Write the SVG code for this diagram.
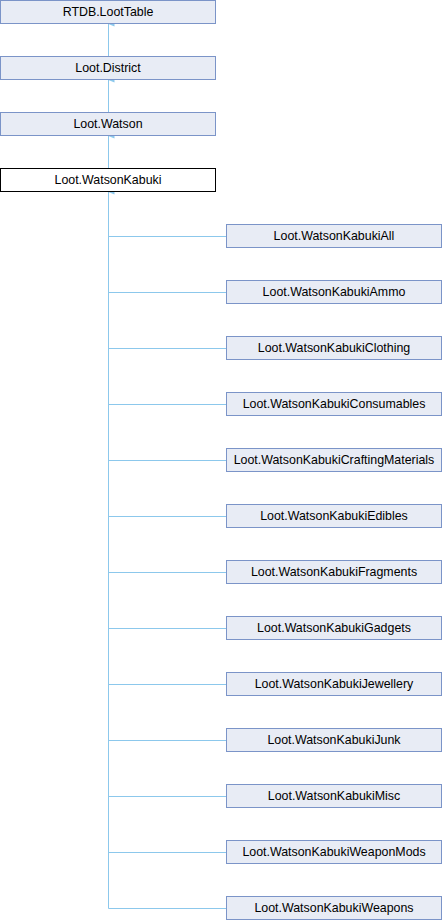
<svg xmlns="http://www.w3.org/2000/svg" width="442" height="920" viewBox="0 0 442 920">
<style>
.n rect{fill:#E8ECF5;stroke:#7B94C8;stroke-width:1}
.n.cur rect{fill:#FFFFFF;stroke:#000000}
.n text{font-family:"Liberation Sans",Arial,sans-serif;font-size:12.4px;fill:#000;text-anchor:middle}
.e{fill:none;stroke:#8CC8EC;stroke-width:1}
</style>
<defs>
<marker id="a" viewBox="0 0 10 12" refX="5" refY="0" markerWidth="5" markerHeight="6" markerUnits="userSpaceOnUse" orient="auto-start-reverse">
<path d="M5,0 L10,12 L0,12 Z" fill="#8CC8EC"/>
</marker>
</defs>
<rect width="442" height="920" fill="#fff"/>
<g id="edges">
<line class="e" x1="108.5" y1="24" x2="108.5" y2="56" marker-start="url(#a)"/>
<line class="e" x1="108.5" y1="80" x2="108.5" y2="112" marker-start="url(#a)"/>
<line class="e" x1="108.5" y1="136" x2="108.5" y2="168" marker-start="url(#a)"/>
<path class="e" d="M108.5,192 V908.5 H226" marker-start="url(#a)"/>
<path class="e" d="M108.5,236.5 H226 M108.5,292.5 H226 M108.5,348.5 H226 M108.5,404.5 H226 M108.5,460.5 H226 M108.5,516.5 H226 M108.5,572.5 H226 M108.5,628.5 H226 M108.5,684.5 H226 M108.5,740.5 H226 M108.5,796.5 H226 M108.5,852.5 H226"/>
</g>
<g id="n_loottable" class="n"><rect x="0.5" y="0.5" width="215" height="23"/><text x="108" y="15.5">RTDB.LootTable</text></g>
<g id="n_district" class="n"><rect x="0.5" y="56.5" width="215" height="23"/><text x="108" y="71.5">Loot.District</text></g>
<g id="n_watson" class="n"><rect x="0.5" y="112.5" width="215" height="23"/><text x="108" y="127.5">Loot.Watson</text></g>
<g id="n_watsonkabuki" class="n cur"><rect x="0.5" y="168.5" width="215" height="23"/><text x="108" y="183.5">Loot.WatsonKabuki</text></g>
<g id="n_all" class="n"><rect x="226.5" y="224.5" width="215" height="23"/><text x="334" y="239.5">Loot.WatsonKabukiAll</text></g>
<g id="n_ammo" class="n"><rect x="226.5" y="280.5" width="215" height="23"/><text x="334" y="295.5">Loot.WatsonKabukiAmmo</text></g>
<g id="n_clothing" class="n"><rect x="226.5" y="336.5" width="215" height="23"/><text x="334" y="351.5">Loot.WatsonKabukiClothing</text></g>
<g id="n_consumables" class="n"><rect x="226.5" y="392.5" width="215" height="23"/><text x="334" y="407.5">Loot.WatsonKabukiConsumables</text></g>
<g id="n_crafting" class="n"><rect x="226.5" y="448.5" width="215" height="23"/><text x="334" y="463.5">Loot.WatsonKabukiCraftingMaterials</text></g>
<g id="n_edibles" class="n"><rect x="226.5" y="504.5" width="215" height="23"/><text x="334" y="519.5">Loot.WatsonKabukiEdibles</text></g>
<g id="n_fragments" class="n"><rect x="226.5" y="560.5" width="215" height="23"/><text x="334" y="575.5">Loot.WatsonKabukiFragments</text></g>
<g id="n_gadgets" class="n"><rect x="226.5" y="616.5" width="215" height="23"/><text x="334" y="631.5">Loot.WatsonKabukiGadgets</text></g>
<g id="n_jewellery" class="n"><rect x="226.5" y="672.5" width="215" height="23"/><text x="334" y="687.5">Loot.WatsonKabukiJewellery</text></g>
<g id="n_junk" class="n"><rect x="226.5" y="728.5" width="215" height="23"/><text x="334" y="743.5">Loot.WatsonKabukiJunk</text></g>
<g id="n_misc" class="n"><rect x="226.5" y="784.5" width="215" height="23"/><text x="334" y="799.5">Loot.WatsonKabukiMisc</text></g>
<g id="n_weaponmods" class="n"><rect x="226.5" y="840.5" width="215" height="23"/><text x="334" y="855.5">Loot.WatsonKabukiWeaponMods</text></g>
<g id="n_weapons" class="n"><rect x="226.5" y="896.5" width="215" height="23"/><text x="334" y="911.5">Loot.WatsonKabukiWeapons</text></g>
</svg>
